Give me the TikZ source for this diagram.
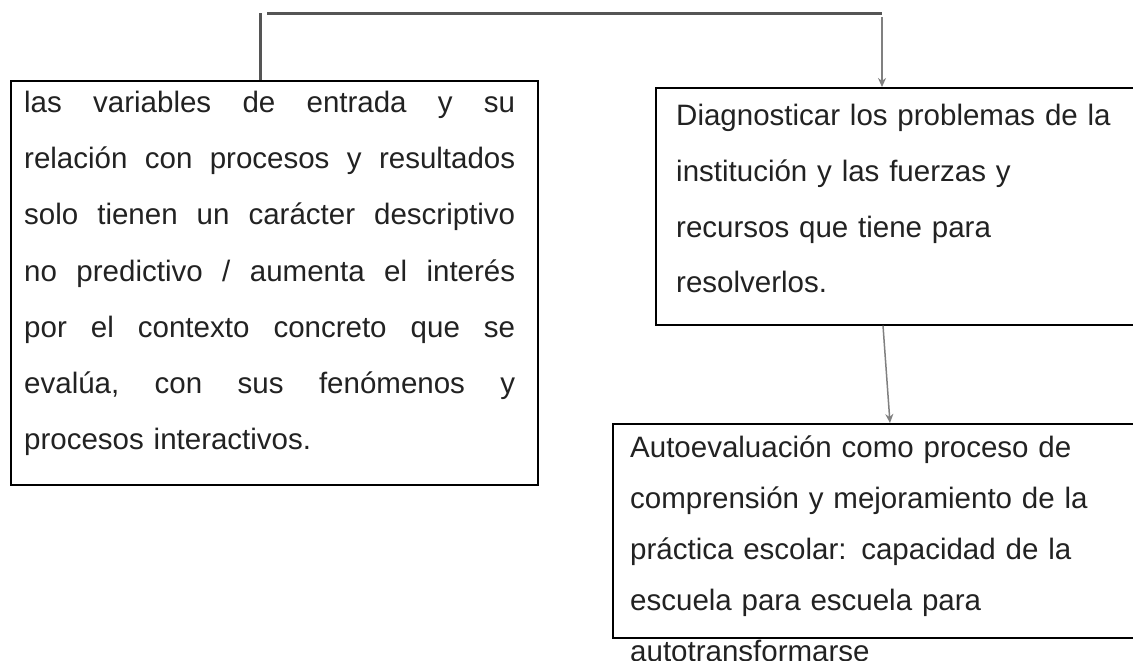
\documentclass[tikz,border=0pt]{standalone}
\usepackage{fontspec}
\setmainfont{Liberation Sans}
\usetikzlibrary{arrows.meta}
\definecolor{txtc}{HTML}{222222}
\definecolor{linedark}{HTML}{555555}
\definecolor{linelight}{HTML}{808080}
\newcommand{\jline}[1]{\makebox[491bp][l]{#1}}
\begin{document}
\begin{tikzpicture}[x=1bp,y=-1bp,
  box/.style={draw=black, line width=1.6bp, inner sep=0pt, anchor=north west},
  txtL/.style={anchor=base west, inner sep=0pt, text width=500bp, align=left, text=txtc,
    font=\fontsize{29.5bp}{56bp}\selectfont},
  txtR/.style={anchor=base west, inner sep=0pt, text width=500bp, align=left, text=txtc,
    font=\fontsize{29.5bp}{55.5bp}\selectfont},
  txtB/.style={anchor=base west, inner sep=0pt, text width=520bp, align=left, text=txtc,
    font=\fontsize{29.5bp}{51bp}\selectfont},
  connthick/.style={draw=linedark, line width=3bp},
  connarrow/.style={draw=linelight, line width=2bp, -{Stealth[length=9bp,width=8bp]}},
  connthin/.style={draw=linelight, line width=1.5bp, -{Stealth[length=9bp,width=8bp]}}]
\clip (0,0) rectangle (1133,661);
\useasboundingbox (0,0) rectangle (1133,661);
\fill[white] (0,0) rectangle (1133,661);

% boxes
\node[box, minimum width=527bp, minimum height=404bp] (L) at (10,80) {};
\node[box, minimum width=500bp, minimum height=237bp] (R) at (655,87) {};
\node[box, minimum width=540bp, minimum height=214bp] (B) at (612,423) {};

% texts
\node[txtL] (Ltext) at (24,113) {%
\jline{las\hfill variables\hfill de\hfill entrada\hfill y\hfill su}\\
\jline{relación\hfill con\hfill procesos\hfill y\hfill resultados}\\
\jline{solo\hfill tienen\hfill un\hfill carácter\hfill descriptivo}\\
\jline{no\hfill predictivo\hfill /\hfill aumenta\hfill el\hfill interés}\\
\jline{por\hfill el\hfill contexto\hfill concreto\hfill que\hfill se}\\
\jline{evalúa,\hfill con\hfill sus\hfill fenómenos\hfill y}\\
procesos interactivos.};

\node[txtR] (Rtext) at (676,126) {Diagnosticar los problemas de la\\
institución y las fuerzas y\\
recursos que tiene para\\
resolverlos.};

\node[txtB] (Btext) at (630,457) {Autoevaluación como proceso de\\
comprensión y mejoramiento de la\\
práctica escolar: capacidad de la\\
escuela para escuela para\\
autotransformarse};

% connectors
\coordinate (t1) at (260,13);
\coordinate (t2) at (267,14);
\coordinate (t3) at (882,14);
\coordinate (t4) at (882,17);
\coordinate (a1) at (883,0);
\coordinate (a2) at (890,0);
\draw[connthick] (t1 |- L.north) -- (t1);
\draw[connthick] (t2) -- (t3);
\draw[connarrow] (t4) -- (t4 |- R.north);
\draw[connthin] (a1 |- R.south) -- (a2 |- B.north);
\end{tikzpicture}
\end{document}
